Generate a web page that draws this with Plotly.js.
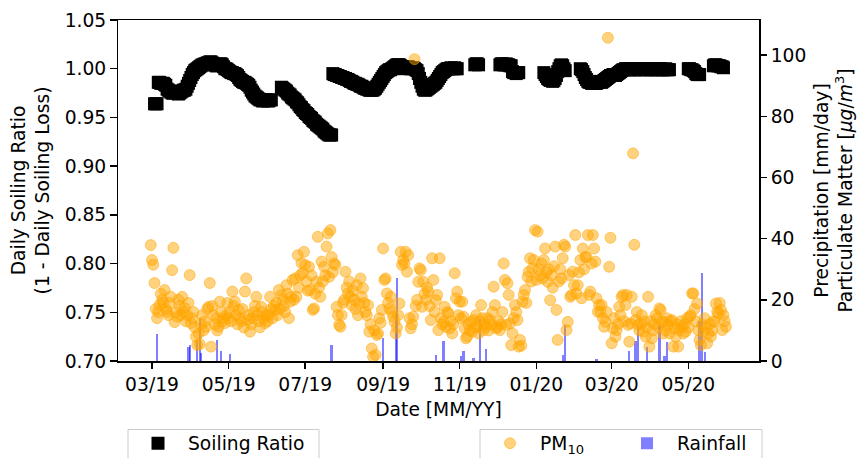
<!DOCTYPE html>
<html>
<head>
<meta charset="utf-8">
<script src="https://cdn.plot.ly/plotly-3.0.1.min.js"></script>
<style>
  html, body { margin: 0; padding: 0; background: #fff; }
  #chart { width: 861px; height: 458px; }
</style>
</head>
<body>
<div id="chart"></div>
<script>
// ---- axis ticks ----
const xTickDates  = ['2019-03-01', '2019-05-01', '2019-07-01', '2019-09-01',
                     '2019-11-01', '2020-01-01', '2020-03-01', '2020-05-01'];
const xTickLabels = ['03/19', '05/19', '07/19', '09/19', '11/19', '01/20', '03/20', '05/20'];
const ratioTicks  = [0.70, 0.75, 0.80, 0.85, 0.90, 0.95, 1.00, 1.05];
const rightTicks  = [0, 20, 40, 60, 80, 100];

// ---- daily soiling ratio, recorded in runs between data gaps ----
const soilRunStarts = ['2019-03-03', '2019-06-12', '2019-07-23', '2019-11-13',
                       '2019-12-03', '2020-01-07', '2020-02-05', '2020-05-01', '2020-05-21'];
const soilRunValues = [
  [0.964, 0.964, 0.964,
   0.986, 0.986, 0.985, 0.985, 0.985, 0.984, 0.983,
   0.979, 0.978, 0.977, 0.976, 0.975, 0.975, 0.976, 0.977, 0.975, 0.974, 0.975, 0.976, 0.977, 0.978, 0.978,
   0.979, 0.982, 0.985, 0.988, 0.991, 0.994, 0.996, 0.998, 0.999, 1.000, 1.001, 1.002,
   1.003, 1.004, 1.004, 1.005, 1.005, 1.006, 1.006, 1.007, 1.007, 1.006, 1.005, 1.004, 1.003, 1.003, 1.004, 1.005, 1.005, 1.004, 1.002, 1.000,
   1.000, 0.999, 0.998, 0.997, 0.996, 0.996, 0.995, 0.995, 0.994, 0.993, 0.991, 0.989, 0.988, 0.987, 0.986, 0.986, 0.985, 0.984, 0.983, 0.981, 0.978, 0.976, 0.974, 0.972, 0.971, 0.970,
   0.969, 0.968, 0.968, 0.967, 0.967, 0.968, 0.968, 0.967, 0.967, 0.968, 0.968],
  [0.981, 0.980, 0.979, 0.978, 0.977, 0.975, 0.974, 0.973, 0.971, 0.970, 0.969,
   0.968, 0.966, 0.965, 0.963, 0.961, 0.960, 0.958, 0.957, 0.955, 0.954,
   0.953, 0.951, 0.950, 0.949, 0.947, 0.946, 0.945, 0.943, 0.942, 0.941,
   0.940, 0.939, 0.938,
   0.936, 0.935, 0.934, 0.933, 0.932, 0.932, 0.932],
  [0.995, 0.994, 0.994, 0.993, 0.993, 0.992, 0.992, 0.991, 0.991, 0.990, 0.990,
   0.989, 0.989, 0.988, 0.987, 0.987, 0.986, 0.985, 0.985, 0.984, 0.984,
   0.983, 0.982, 0.982, 0.981, 0.980, 0.980, 0.979, 0.979, 0.978, 0.978,
   0.978, 0.978, 0.979, 0.980, 0.982, 0.984, 0.986, 0.988, 0.990, 0.992,
   0.994, 0.996, 0.997, 0.998, 0.999, 0.999, 1.000, 1.001, 1.002, 1.003,
   1.004, 1.004, 1.004, 1.003, 1.002,
   1.001, 1.000, 1.001, 1.002, 1.002, 1.001, 1.000, 1.000, 1.001, 1.000, 0.999,
   0.998, 0.995, 0.990, 0.986, 0.982, 0.979, 0.978, 0.978, 0.979, 0.980, 0.981,
   0.982, 0.983, 0.984, 0.985, 0.986, 0.988, 0.990, 0.992, 0.994, 0.996, 0.997,
   0.998, 0.999, 1.000, 1.000, 1.000, 1.001, 1.000, 1.000, 1.001, 1.000, 1.000],
  [1.004, 1.005, 1.005, 1.004],
  [1.004, 1.005, 1.005, 1.004, 1.004, 1.005, 1.004, 1.004, 1.003, 1.003,
   0.997, 0.996, 0.996, 0.995, 0.996, 0.996],
  [0.996, 0.994, 0.992, 0.990, 0.989, 0.988, 0.988, 0.987, 0.988, 0.990,
   0.993, 0.997, 1.000, 1.003, 1.004, 1.003, 1.000, 0.998],
  [1.000, 0.999, 0.997, 0.994, 0.991, 0.989,
   0.987, 0.986, 0.986, 0.985, 0.985, 0.986, 0.985, 0.985, 0.986, 0.986, 0.987, 0.986, 0.987, 0.988, 0.989,
   0.990, 0.991, 0.992, 0.993, 0.993, 0.994, 0.994, 0.993, 0.994, 0.995, 0.996,
   0.997, 0.998, 0.999, 0.999, 1.000, 1.000, 0.999, 0.999, 1.000, 1.000,
   0.999, 0.999, 0.999, 1.000, 1.000, 0.999, 0.999, 1.000, 1.000, 1.000,
   0.999, 0.999, 1.000, 1.000, 0.999, 0.999, 0.999, 1.000, 1.000, 0.999,
   0.999, 1.000, 1.000, 0.999, 0.999, 0.999, 1.000, 0.999, 0.999, 0.999],
  [1.000, 1.000, 0.999, 0.999, 0.998, 0.997, 0.995, 0.994, 0.994, 0.994],
  [1.003, 1.004, 1.004, 1.003, 1.003, 1.003, 1.002, 1.002, 1.001]
];

// ---- daily PM10 [ug/m3], one value per day from pm10Start ----
const pm10Start = '2019-02-28';
const pm10 = [
  37.9,
  // 2019-03
  33, 31.5, 25.5, 17, 14, 16, 18.3, 22, 20, 19, 23.2, 17, 16, 15, 19, 21, 29.7, 37, 12.7, 16,
  14.5, 20, 18, 15, 21, 16, 17.3, 13, 15, 19, 28.1,
  // 2019-04
  12.4, 14, 16, 11, 8, 5.2, 9, 5.5, 12, 15, 10, 13, 11.2, 17, 17.7, 25.5, 4.7, 18, 15, 12,
  14, 10, 11.2, 19.4, 16, 13, 14, 12.4, 15, 19,
  // 2019-05
  14, 16, 13, 22.7, 18, 19.4, 15, 12, 16.7, 14, 13, 17, 11, 22.7, 27, 13.4, 15, 9.6, 12, 14,
  16, 18, 21, 15, 13, 11, 17.7, 16, 14, 12.4, 15,
  // 2019-06
  13, 15, 21, 17, 14, 18, 16.7, 19, 15, 23.2, 17, 21.6, 20, 18, 16, 24.8, 22, 14, 19.4, 21,
  26.5, 20, 27, 21, 34.6, 24, 28, 32, 28.8, 35.7,
  // 2019-07
  31.4, 26, 23, 30.8, 23.2, 28, 16.7, 17.2, 22, 25.9, 40.6, 24, 21, 32.5, 26, 30.8, 28, 37.4, 41.7, 27.5,
  42.8, 34, 29, 31.9, 31.4, 17.7, 15, 11.8, 11.2, 15, 19,
  // 2019-08
  20, 29.2, 24, 22.1, 26, 21, 18.3, 23, 20, 17, 24.8, 15, 18.8, 27, 21, 23.8, 19, 16, 15, 18.3,
  9.6, 12, 4.1, 1.4, 10, 2, 8.5, 9, 14, 12.5, 16.7,
  // 2019-09
  36.8, 26.5, 27, 22.1, 19, 17.2, 21, 16, 14.5, 12.8, 9, 11, 15, 18.8, 35.7, 31.4, 33, 31.9, 35.7, 29.2,
  34.6, 14, 10.7, 12, 14.5, 98.7, 18, 20, 25.9, 30.3,
  // 2019-10
  29.7, 17.7, 25.9, 22, 20, 24, 22.7, 18, 13.4, 33.6, 26.5, 16.1, 19.9, 21.6, 10.1, 33.6, 14, 12, 12.8, 17.7,
  11.2, 16, 15.6, 10.7, 13, 9, 12, 28.7, 20.5, 22.7, 15,
  // 2019-11
  19.4, 14, 19.4, 14.5, 10.7, 7.4, 8, 12, 10, 12.8, 9.6, 13.4, 11, 15, 11.2, 9, 13, 18.3, 14, 10.1,
  12, 11.2, 14, 10, 13.4, 12, 16, 24.3, 18.3, 10.7,
  // 2019-12
  11.2, 13, 10.1, 12, 16, 31.9, 26.5, 11.8, 25.4, 21.6, 12.3, 5.2, 9, 14, 18.3, 16, 13.4, 4.7, 6.9, 5,
  19.4, 21.6, 23.2, 19, 27.5, 29.2, 33.6, 26, 30.3, 33, 42.8,
  // 2020-01
  26.5, 42.3, 30, 28, 31.9, 27, 33, 36.8, 29, 25.9, 30, 19.9, 28, 24, 31, 37.4, 16.7, 6.9, 26, 30,
  27, 33.6, 38, 37.4, 10.1, 12.8, 28.1, 21, 21.6, 29.2, 24.8,
  // 2020-02
  41.2, 22.1, 24.8, 29, 33, 20.5, 36.8, 30, 34, 34, 41.2, 21.6, 22.7, 31.9, 41.2, 36.8, 32.5, 20.5, 16.1, 18.3,
  16.1, 18.3, 14, 11.2, 12.8, 16, 105.7, 30.8, 40.3,
  // 2020-03
  5.8, 10.7, 14, 8, 10.1, 12, 17.7, 15, 21, 21.6, 13, 18.3, 21.6, 11.8, 6.3, 12.3, 21, 67.9, 38, 13.4,
  16, 11.8, 10, 12.3, 15, 9.6, 13, 8, 11, 21, 4.7,
  // 2020-04
  13, 7.4, 10, 12, 15, 14, 11, 17.2, 16.7, 12.8, 9, 12.8, 10, 14, 11.8, 9, 13, 13.4, 4.7, 10.7,
  8, 12, 4.7, 10.1, 13, 11.2, 9, 12, 9.6, 14,
  // 2020-05
  11, 14.5, 15, 22.1, 22.1, 17, 13, 18.8, 10, 6.9, 5.2, 12, 9.6, 14, 11, 5.8, 9, 12, 8, 10,
  13, 12.8, 18.8, 16.1, 15.6, 19, 16.7, 10.1, 15, 13, 11.2
];

// ---- daily rainfall [mm/day] on rainy days ----
const rainDates = ['2019-03-05', '2019-03-30', '2019-03-31', '2019-04-06', '2019-04-08', '2019-04-09',
                   '2019-04-22', '2019-04-25', '2019-05-02', '2019-07-22', '2019-09-01', '2019-09-11',
                   '2019-09-12', '2019-10-13', '2019-10-19', '2019-11-02', '2019-11-04', '2019-11-12',
                   '2019-11-17', '2019-11-22', '2020-01-22', '2020-01-24', '2020-02-18', '2020-03-15',
                   '2020-03-20', '2020-03-22', '2020-03-29', '2020-04-08', '2020-04-12', '2020-04-14',
                   '2020-05-10', '2020-05-12', '2020-05-14'];
const rainMm    = [8.7, 4.5, 5.2, 6.5, 14, 2.6,
                   6.9, 3.3, 2.2, 5.2, 7.4, 15.7,
                   27.2, 2, 6.4, 1.6, 3.2, 0.9,
                   13.6, 3.8, 2, 11.8, 0.8, 3.2,
                   6.4, 11.4, 4.6, 11.8, 1.8, 6.3,
                   13.2, 28.9, 2.8];

// ---- helpers ----
const DAY_MS = 86400000;
function dayAfter(startIso, n) {
  const t = Date.parse(startIso + 'T00:00:00Z') + n * DAY_MS;
  return new Date(t).toISOString().slice(0, 10);
}

// flatten soiling runs, breaking the series at each gap
const soilX = [], soilY = [];
soilRunStarts.forEach((s, i) => {
  soilRunValues[i].forEach((v, k) => { soilX.push(dayAfter(s, k)); soilY.push(v); });
});
const pmX = pm10.map((_, k) => dayAfter(pm10Start, k));

const FONT = 'DejaVu Sans, Verdana, sans-serif';
const FS = 18.7;

// plot-area geometry in pixels (used to place the legend frames in paper units)
const W = 861, H = 458;
const M = { l: 118, r: 102, t: 20, b: 97 };
const PW = W - M.l - M.r, PH = H - M.t - M.b;
const px2paperX = px => (px - M.l) / PW;
const px2paperY = py => (H - M.b - py) / PH;

function legendFrame(x0, x1, yTop) {
  return {
    type: 'rect', xref: 'paper', yref: 'paper', layer: 'above',
    x0: px2paperX(x0), x1: px2paperX(x1),
    y0: px2paperY(yTop), y1: px2paperY(H + 20),
    line: { color: '#cccccc', width: 1 },
    fillcolor: 'rgba(255,255,255,0.8)'
  };
}

const traces = [
  {
    type: 'scatter', mode: 'markers', name: 'Soiling Ratio',
    x: soilX, y: soilY, yaxis: 'y', legend: 'legend',
    marker: { symbol: 'square', size: 13, color: '#000000', line: { width: 0 } },
    cliponaxis: false
  },
  {
    type: 'scatter', mode: 'markers', name: 'PM<sub>10</sub>',
    x: pmX, y: pm10, yaxis: 'y2', legend: 'legend2',
    marker: { symbol: 'circle', size: 11, color: 'rgba(255,165,0,0.5)',
              line: { width: 1, color: 'rgba(255,165,0,0.5)' } }
  },
  {
    type: 'bar', name: 'Rainfall',
    x: rainDates, y: rainMm, yaxis: 'y2', legend: 'legend2',
    width: 1.8 * DAY_MS,
    marker: { color: 'rgba(0,0,255,0.5)', line: { width: 0 } }
  }
];

const axisCommon = {
  showgrid: false, zeroline: false,
  showline: true, linecolor: '#000', linewidth: 1.5,
  ticks: 'outside', ticklen: 6.5, tickwidth: 1.5, tickcolor: '#000',
  tickfont: { family: FONT, size: FS, color: '#000' },
  automargin: false
};

const legendCommon = {
  xref: 'container', yref: 'container',
  xanchor: 'left', yanchor: 'top', orientation: 'h',
  bgcolor: 'rgba(0,0,0,0)', borderwidth: 0,
  font: { family: FONT, size: FS, color: '#000' },
  itemwidth: 50
};

const layout = {
  width: W, height: H,
  margin: M,
  paper_bgcolor: '#fff', plot_bgcolor: '#fff',
  font: { family: FONT, size: FS, color: '#000' },
  showlegend: true,
  bargap: 0,
  xaxis: Object.assign({}, axisCommon, {
    type: 'date',
    range: ['2019-02-01 22:00', '2020-06-26 07:00'],
    tickmode: 'array', tickvals: xTickDates, ticktext: xTickLabels,
    mirror: true,
    title: { text: 'Date [MM/YY]', font: { family: FONT, size: FS }, standoff: 8 }
  }),
  yaxis: Object.assign({}, axisCommon, {
    range: [0.70, 1.05],
    tickmode: 'array', tickvals: ratioTicks, ticktext: ratioTicks.map(v => v.toFixed(2)),
    title: { text: 'Daily Soiling Ratio<br>(1 - Daily Soiling Loss)', font: { family: FONT, size: FS }, standoff: 10 }
  }),
  yaxis2: Object.assign({}, axisCommon, {
    overlaying: 'y', side: 'right', anchor: 'x',
    range: [0, 111.5],
    tickmode: 'array', tickvals: rightTicks, ticktext: rightTicks.map(String),
    title: { text: 'Precipitation [mm/day]<br>Particulate Matter [<i>μg</i>/<i>m</i><sup>3</sup>]',
             font: { family: FONT, size: FS }, standoff: 9 }
  }),
  shapes: [legendFrame(128, 319, 429.5), legendFrame(480, 762, 429.5)],
  legend: Object.assign({}, legendCommon, { x: 128 / W, y: 33.5 / H }),
  legend2: Object.assign({}, legendCommon, {
    x: 480 / W, y: 33.5 / H, entrywidth: 72, entrywidthmode: 'pixels'
  })
};

Plotly.newPlot('chart', traces, layout, { displayModeBar: false, staticPlot: true });
</script>
</body>
</html>
